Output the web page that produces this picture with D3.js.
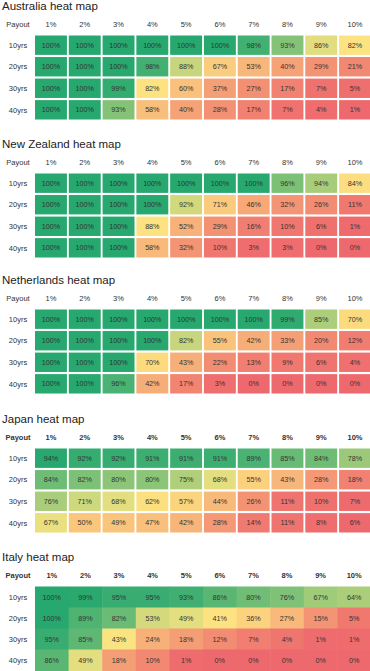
<!DOCTYPE html>
<html>
<head>
<meta charset="utf-8">
<script src="https://cdn.jsdelivr.net/npm/d3@7"></script>
<style>
  html, body { margin: 0; padding: 0; background: #fff; }
  svg { display: block; }
  text { font-family: "Liberation Sans", Arial, sans-serif; }
</style>
</head>
<body>
<svg id="chart" width="370" height="671"></svg>
<script>
const payouts = ["1%", "2%", "3%", "4%", "5%", "6%", "7%", "8%", "9%", "10%"];
const horizons = ["10yrs", "20yrs", "30yrs", "40yrs"];

const australia = [
  [100, 100, 100, 100, 100, 100, 98, 93, 86, 82],
  [100, 100, 100, 98, 88, 67, 53, 40, 29, 21],
  [100, 100, 99, 82, 60, 37, 27, 17, 7, 5],
  [100, 100, 93, 58, 40, 28, 17, 7, 4, 1]
];
const newZealand = [
  [100, 100, 100, 100, 100, 100, 100, 96, 94, 84],
  [100, 100, 100, 100, 92, 71, 46, 32, 26, 11],
  [100, 100, 100, 88, 52, 29, 16, 10, 6, 1],
  [100, 100, 100, 58, 32, 10, 3, 3, 0, 0]
];
const netherlands = [
  [100, 100, 100, 100, 100, 100, 100, 99, 85, 70],
  [100, 100, 100, 100, 82, 55, 42, 33, 20, 12],
  [100, 100, 100, 70, 43, 22, 13, 9, 6, 4],
  [100, 100, 96, 42, 17, 3, 0, 0, 0, 0]
];
const japan = [
  [94, 92, 92, 91, 91, 91, 89, 85, 84, 78],
  [84, 82, 80, 80, 75, 68, 55, 43, 28, 18],
  [76, 71, 68, 62, 57, 44, 26, 11, 10, 7],
  [67, 50, 49, 47, 42, 28, 14, 11, 8, 6]
];
const italy = [
  [100, 99, 95, 95, 93, 86, 80, 76, 67, 64],
  [100, 89, 82, 53, 49, 41, 36, 27, 15, 5],
  [95, 85, 43, 24, 18, 12, 7, 4, 1, 1],
  [86, 49, 18, 10, 1, 0, 0, 0, 0, 0]
];

const titles = ["Australia heat map", "New Zealand heat map", "Netherlands heat map", "Japan heat map", "Italy heat map"];
const tables = [australia, newZealand, netherlands, japan, italy];

// layout (not data)
const panelTops = [0, 138, 274, 413, 551];
const boldHeader = [false, false, false, true, true];
const gapless = [false, false, false, false, true];

const svg = d3.select("#chart");
const lowColor = "#ee696d", midColor = "#fde581", highColor = "#26a86f";

tables.forEach((table, k) => {
  const top = panelTops[k];
  const g = svg.append("g").attr("transform", `translate(0,${top})`);

  const flat = table.flat();
  const sorted = flat.slice().sort(d3.ascending);
  const color = d3.scaleLinear()
    .domain([d3.min(flat), d3.quantileSorted(sorted, 0.5), d3.max(flat)])
    .range([lowColor, midColor, highColor])
    .interpolate(d3.interpolateRgb);

  const x = d3.scaleBand().domain(payouts).range([35, 371])
    .paddingInner(gapless[k] ? 0 : 0.055).paddingOuter(0);
  const y = d3.scaleBand().domain(horizons).range([35.5, 35.5 + 21 * 4])
    .paddingInner(gapless[k] ? 0 : 0.1).paddingOuter(0);

  g.append("text")
    .attr("x", 2).attr("y", 10)
    .attr("font-size", 11.5).attr("fill", "#222")
    .text(titles[k]);

  const hdr = g.append("g").attr("font-size", 7.5).attr("fill", "#333")
    .attr("font-weight", boldHeader[k] ? "bold" : "normal");
  hdr.append("text").attr("x", 18).attr("y", 26.7).attr("text-anchor", "middle").text("Payout");
  hdr.selectAll("text.col").data(payouts).join("text")
    .attr("class", "col")
    .attr("x", d => x(d) + x.bandwidth() / 2)
    .attr("y", 26.7)
    .attr("text-anchor", "middle")
    .text(d => d);

  g.selectAll("text.row").data(horizons).join("text")
    .attr("class", "row")
    .attr("x", 18)
    .attr("y", d => y(d) + y.bandwidth() / 2 + 2.7)
    .attr("text-anchor", "middle")
    .attr("font-size", 7.5).attr("fill", "#333")
    .text(d => d);

  const cells = [];
  table.forEach((row, i) => row.forEach((v, j) => cells.push({ h: horizons[i], p: payouts[j], v })));

  g.selectAll("rect.cell").data(cells).join("rect")
    .attr("class", "cell")
    .attr("x", d => x(d.p))
    .attr("y", d => y(d.h))
    .attr("width", x.bandwidth() + (gapless[k] ? 0.5 : 0))
    .attr("height", y.bandwidth() + (gapless[k] ? 0.5 : 0))
    .attr("fill", d => color(d.v));

  g.selectAll("text.val").data(cells).join("text")
    .attr("class", "val")
    .attr("x", d => x(d.p) + x.bandwidth() / 2)
    .attr("y", d => y(d.h) + y.bandwidth() / 2 + 2.6)
    .attr("text-anchor", "middle")
    .attr("font-size", 7.2).attr("fill", "#333")
    .text(d => d.v + "%");
});
</script>
</body>
</html>
